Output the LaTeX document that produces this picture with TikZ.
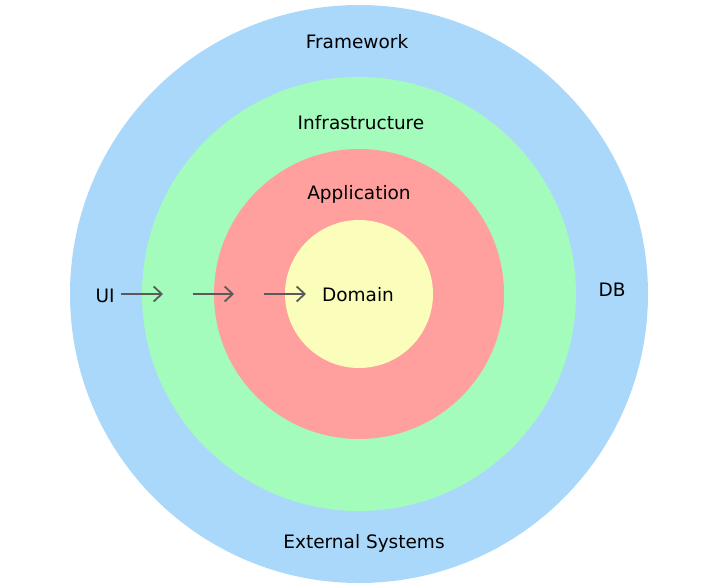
\documentclass[tikz,border=0pt]{standalone}
\usepackage{fontspec}
\setmainfont{DejaVu Sans}
\definecolor{frameworkblue}{RGB}{170,216,251}
\definecolor{infragreen}{RGB}{163,252,188}
\definecolor{appred}{RGB}{255,160,158}
\definecolor{domainyellow}{RGB}{251,253,186}
\definecolor{flowgray}{RGB}{90,90,90}
\usetikzlibrary{arrows.meta}
\tikzset{
  layer/.style={font=\fontsize{18.5}{22}\selectfont, text=black, inner sep=0pt},
  flow/.style={draw=flowgray, line width=1.8pt, -{Straight Barb[length=8pt,width=15pt,line width=1.8pt]}}
}

\begin{document}
\begin{tikzpicture}[x=1pt, y=-1pt]
\useasboundingbox (0,0) rectangle (722,586);

% layers, outside in
\fill [frameworkblue] (359,294) circle [radius=289pt];
\fill [infragreen]    (359,294) circle [radius=217pt];
\fill [appred]        (359,294) circle [radius=145pt];
\fill [domainyellow]  (359,294) circle [radius=74pt];

\node[layer] (framework) at (357,42)  {Framework};
\node[layer] (infra)     at (361,123) {Infrastructure};
\node[layer] (app)       at (359,194) {Application};
\node[layer] (domain)    at (358,295) {Domain};
\node[layer] (ui)        at (105,296) {UI};
\node[layer] (db)        at (612,290) {DB};
\node[layer] (ext)       at (364,543) {External Systems};

% dependencies point inwards
\coordinate (a0) at (121,294); \coordinate (a1) at (163,294);
\coordinate (b0) at (193,294); \coordinate (b1) at (234,294);
\coordinate (c0) at (264,294); \coordinate (c1) at (306,294);
\draw[flow] (a0) -- (a1);
\draw[flow] (b0) -- (b1);
\draw[flow] (c0) -- (c1);
\end{tikzpicture}
\end{document}
